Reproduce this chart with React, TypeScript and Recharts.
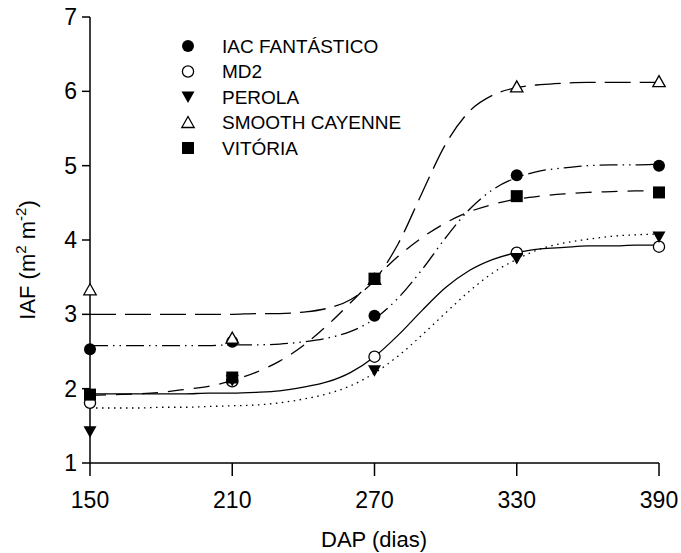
import { ComposedChart, Line, Scatter, XAxis, YAxis, Legend } from "recharts"

// fitted curves, every 10 days
const dap = [150, 160, 170, 180, 190, 200, 210, 220, 230, 240, 250, 260, 270, 280, 290, 300, 310, 320, 330, 340, 350, 360, 370, 380, 390]
const iacFit = [2.58, 2.58, 2.58, 2.58, 2.58, 2.58, 2.59, 2.59, 2.6, 2.63, 2.68, 2.77, 2.94, 3.22, 3.6, 4.03, 4.41, 4.68, 4.84, 4.93, 4.97, 5.0, 5.01, 5.01, 5.02]
const md2Fit = [1.93, 1.93, 1.93, 1.93, 1.93, 1.94, 1.94, 1.95, 1.97, 2.02, 2.09, 2.22, 2.43, 2.72, 3.05, 3.36, 3.59, 3.74, 3.83, 3.88, 3.9, 3.92, 3.92, 3.93, 3.93]
const perolaFit = [1.74, 1.74, 1.74, 1.75, 1.75, 1.76, 1.77, 1.78, 1.81, 1.86, 1.93, 2.04, 2.21, 2.44, 2.72, 3.02, 3.31, 3.56, 3.74, 3.88, 3.96, 4.01, 4.05, 4.07, 4.08]
const cayenneFit = [3.0, 3.0, 3.0, 3.0, 3.0, 3.0, 3.0, 3.01, 3.01, 3.03, 3.08, 3.2, 3.46, 3.95, 4.63, 5.29, 5.73, 5.95, 6.05, 6.09, 6.11, 6.12, 6.12, 6.12, 6.12]
const vitoriaFit = [1.91, 1.92, 1.93, 1.95, 1.99, 2.03, 2.11, 2.22, 2.37, 2.58, 2.85, 3.16, 3.48, 3.78, 4.03, 4.23, 4.38, 4.48, 4.55, 4.59, 4.62, 4.64, 4.65, 4.66, 4.66]

// observed values
const obsDap = [150, 210, 270, 330, 390]
const iacObs = [2.53, 2.63, 2.98, 4.87, 5.0]
const md2Obs = [1.81, 2.1, 2.43, 3.83, 3.91]
const perolaObs = [1.42, 2.11, 2.24, 3.75, 4.04]
const cayenneObs = [3.33, 2.68, 3.47, 6.06, 6.13]
const vitoriaObs = [1.92, 2.15, 3.48, 4.59, 4.64]

const xTicks = [150, 210, 270, 330, 390]
const yTicks = [1, 2, 3, 4, 5, 6, 7]

const FONT = "'Liberation Sans', Arial, sans-serif"

const series = [
  { key: "iac", name: "IAC FANTÁSTICO", marker: "dot", fit: iacFit, obs: iacObs, dash: "18 5 1.5 5 1.5 5" },
  { key: "md2", name: "MD2", marker: "circle", fit: md2Fit, obs: md2Obs, dash: undefined },
  { key: "perola", name: "PEROLA", marker: "down", fit: perolaFit, obs: perolaObs, dash: "1.5 4.5" },
  { key: "cayenne", name: "SMOOTH CAYENNE", marker: "up", fit: cayenneFit, obs: cayenneObs, dash: "26 9" },
  { key: "vitoria", name: "VITÓRIA", marker: "square", fit: vitoriaFit, obs: vitoriaObs, dash: "16 10" },
]

const curveData = dap.map((d, i) => {
  const row: Record<string, number> = { dap: d }
  series.forEach((s) => (row[s.key] = s.fit[i]))
  return row
})

function Marker({ kind, cx, cy }: { kind: string; cx: number; cy: number }) {
  switch (kind) {
    case "dot":
      return <circle cx={cx} cy={cy} r={6} fill="#000" />
    case "circle":
      return <circle cx={cx} cy={cy} r={5.6} fill="#fff" stroke="#000" strokeWidth={1.3} />
    case "down":
      return <polygon points={`${cx - 6.5},${cy - 5.5} ${cx + 6.5},${cy - 5.5} ${cx},${cy + 6}`} fill="#000" />
    case "up":
      return (
        <polygon
          points={`${cx - 6.2},${cy + 5} ${cx + 6.2},${cy + 5} ${cx},${cy - 6}`}
          fill="#fff"
          stroke="#000"
          strokeWidth={1.3}
        />
      )
    default:
      return <rect x={cx - 6} y={cy - 6} width={12} height={12} fill="#000" />
  }
}

function LegendBox() {
  return (
    <svg width={230} height={140}>
      {series.map((s, i) => {
        const cy = 18 + i * 25.5
        return (
          <g key={s.key}>
            <Marker kind={s.marker} cx={10} cy={cy} />
            <text x={44} y={cy + 6.8} fontSize={19} fontFamily={FONT} fill="#000">
              {s.name}
            </text>
          </g>
        )
      })}
    </svg>
  )
}

export default function App() {
  return (
    <div style={{ position: "absolute", left: 0, top: 0 }}>
      <ComposedChart
        width={681}
        height={553}
        data={curveData}
        margin={{ top: 17, right: 22, bottom: 0, left: 8 }}
      >
        <XAxis
          dataKey="dap"
          type="number"
          domain={[150, 390]}
          ticks={xTicks}
          height={90}
          stroke="#000"
          strokeWidth={1.5}
          tickSize={13}
          tickMargin={16}
          tick={{ fontSize: 23, fill: "#000", fontFamily: FONT }}
          label={{
            content: () => (
              <text x={374} y={547} textAnchor="middle" fontSize={22} fontFamily={FONT} fill="#000">
                DAP (dias)
              </text>
            ),
          }}
        />
        <YAxis
          type="number"
          domain={[1, 7]}
          ticks={yTicks}
          width={82}
          stroke="#000"
          strokeWidth={1.5}
          tickSize={8}
          tickMargin={5}
          tick={{ fontSize: 23, fill: "#000", fontFamily: FONT }}
          label={{
            content: () => (
              <text
                x={35}
                y={260}
                transform="rotate(-90, 35, 260)"
                textAnchor="middle"
                fontSize={22}
                fontFamily={FONT}
                fill="#000"
              >
                <tspan>IAF (m</tspan>
                <tspan dy={-9} fontSize={15}>2</tspan>
                <tspan dy={9}> m</tspan>
                <tspan dy={-9} fontSize={15}>-2</tspan>
                <tspan dy={9}>)</tspan>
              </text>
            ),
          }}
        />
        <Legend
          layout="vertical"
          align="center"
          verticalAlign="middle"
          wrapperStyle={{ left: 178, top: 28, width: 230, height: 140 }}
          content={() => <LegendBox />}
        />
        {series.map((s) => (
          <Line
            key={s.key + "-fit"}
            dataKey={s.key}
            type="monotone"
            stroke="#000"
            strokeWidth={1.3}
            strokeDasharray={s.dash}
            dot={false}
            activeDot={false}
            legendType="none"
            isAnimationActive={false}
          />
        ))}
        {series.map((s) => (
          <Scatter
            key={s.key + "-obs"}
            data={obsDap.map((d, i) => ({ dap: d, iaf: s.obs[i] }))}
            dataKey="iaf"
            legendType="none"
            isAnimationActive={false}
            shape={(p: any) => <Marker kind={s.marker} cx={p.cx} cy={p.cy} />}
          />
        ))}
      </ComposedChart>
    </div>
  )
}
